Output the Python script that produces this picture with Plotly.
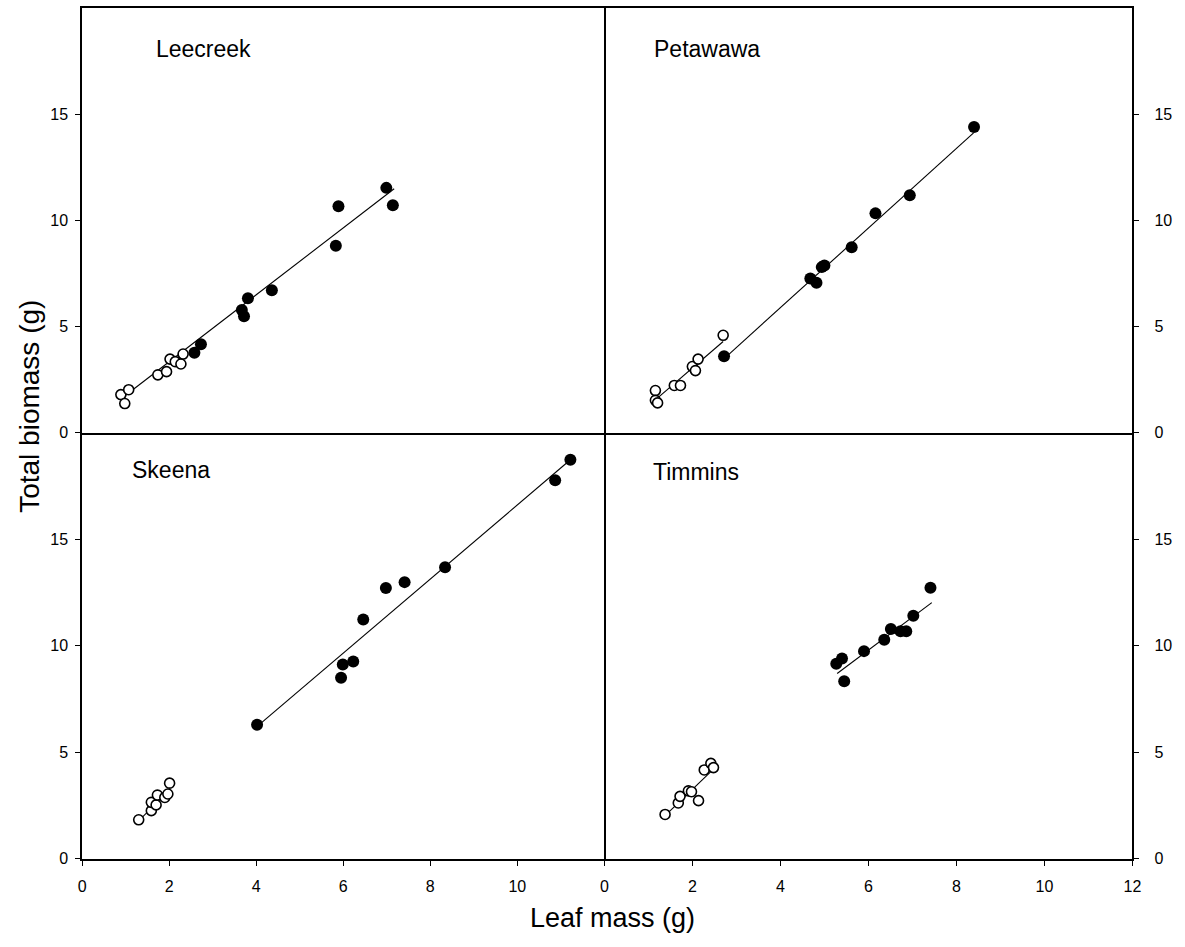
import plotly.graph_objects as go

# ---- data: leaf mass (g) vs total biomass (g), open = small seedlings, filled = large
SITES = ["Leecreek", "Petawawa", "Skeena", "Timmins"]

leecreek_open_x = [0.89, 0.98, 1.07, 1.74, 1.94, 2.02, 2.14, 2.27, 2.32]
leecreek_open_y = [1.80, 1.38, 2.03, 2.73, 2.88, 3.47, 3.35, 3.24, 3.71]
leecreek_fill_x = [2.58, 2.73, 3.67, 3.72, 3.81, 4.36, 5.83, 5.89, 6.99, 7.14]
leecreek_fill_y = [3.77, 4.17, 5.78, 5.49, 6.33, 6.71, 8.81, 10.67, 11.53, 10.71]

petawawa_open_x = [1.16, 1.16, 1.21, 1.59, 1.73, 2.00, 2.07, 2.13, 2.70]
petawawa_open_y = [1.99, 1.53, 1.41, 2.23, 2.23, 3.12, 2.93, 3.47, 4.59]
petawawa_fill_x = [2.72, 4.68, 4.82, 4.94, 5.00, 5.62, 6.16, 6.94, 8.40]
petawawa_fill_y = [3.61, 7.26, 7.07, 7.80, 7.88, 8.73, 10.33, 11.18, 14.40]

skeena_open_x = [1.30, 1.59, 1.59, 1.70, 1.73, 1.90, 1.97, 2.01]
skeena_open_y = [1.83, 2.26, 2.65, 2.53, 2.99, 2.88, 3.04, 3.55]
skeena_fill_x = [4.02, 5.95, 5.99, 6.23, 6.46, 6.98, 7.41, 8.34, 10.87, 11.22]
skeena_fill_y = [6.29, 8.50, 9.12, 9.26, 11.23, 12.71, 12.99, 13.69, 17.77, 18.74]

timmins_open_x = [1.38, 1.68, 1.72, 1.91, 1.98, 2.14, 2.27, 2.42, 2.48]
timmins_open_y = [2.08, 2.62, 2.93, 3.19, 3.15, 2.73, 4.17, 4.48, 4.28]
timmins_fill_x = [5.27, 5.40, 5.45, 5.90, 6.36, 6.51, 6.73, 6.86, 7.02, 7.41]
timmins_fill_y = [9.16, 9.40, 8.34, 9.75, 10.28, 10.79, 10.68, 10.68, 11.41, 12.73]

# regression segments (x ends, y ends)
leecreek_fit_x = [[0.97, 7.17]]
leecreek_fit_y = [[1.72, 11.49]]
petawawa_fit_x = [[1.16, 2.70], [2.81, 8.39]]
petawawa_fit_y = [[1.55, 4.30], [3.66, 14.12]]
skeena_fit_x = [[1.30, 2.01], [4.11, 11.20]]
skeena_fit_y = [[1.78, 3.25], [6.37, 18.70]]
timmins_fit_x = [[1.38, 2.45], [5.29, 7.44]]
timmins_fit_y = [[2.03, 4.15], [8.70, 12.03]]

y_ticks = [0, 5, 10, 15]
x_ticks_left = [0, 2, 4, 6, 8, 10]
x_ticks_right = [0, 2, 4, 6, 8, 10, 12]

panels = [
    (leecreek_open_x, leecreek_open_y, leecreek_fill_x, leecreek_fill_y, leecreek_fit_x, leecreek_fit_y),
    (petawawa_open_x, petawawa_open_y, petawawa_fill_x, petawawa_fill_y, petawawa_fit_x, petawawa_fit_y),
    (skeena_open_x, skeena_open_y, skeena_fill_x, skeena_fill_y, skeena_fit_x, skeena_fit_y),
    (timmins_open_x, timmins_open_y, timmins_fill_x, timmins_fill_y, timmins_fit_x, timmins_fit_y),
]

# ---- page geometry (pixels)
W, H = 1185, 947
FONT = "Arial, Liberation Sans, Helvetica, sans-serif"


def xdom(a, b):
    return [a / W, b / W]


def ydom(top, bottom):
    return [1 - bottom / H, 1 - top / H]


LEFT = xdom(79, 607)
RIGHT = xdom(607, 1141)
TOP = ydom(8, 437)
BOTTOM = ydom(437, 867)

fig = go.Figure()

for i, (ox, oy, fx, fy, lx, ly) in enumerate(panels):
    suffix = "" if i == 0 else str(i + 1)
    xa, ya = "x" + suffix, "y" + suffix
    for sx, sy in zip(lx, ly):
        fig.add_trace(go.Scatter(x=sx, y=sy, mode="lines", xaxis=xa, yaxis=ya,
                                 line=dict(color="black", width=1.1),
                                 showlegend=False, hoverinfo="skip"))
    fig.add_trace(go.Scatter(x=fx, y=fy, mode="markers", xaxis=xa, yaxis=ya,
                             marker=dict(size=12, color="black", line=dict(width=0)),
                             showlegend=False))
    fig.add_trace(go.Scatter(x=ox, y=oy, mode="markers", xaxis=xa, yaxis=ya,
                             marker=dict(size=10, color="white",
                                         line=dict(color="black", width=1.6)),
                             showlegend=False))

tick_font = dict(family=FONT, size=16, color="black")
LINE = dict(showline=True, linecolor="black", linewidth=1.6)
common_x = dict(range=[0, 12], showgrid=False, zeroline=False, fixedrange=True, **LINE)
common_y = dict(range=[0, 20], showgrid=False, zeroline=False, tickvals=y_ticks,
                ticks="outside", ticklen=5, tickwidth=1.2, tickcolor="black",
                tickfont=tick_font, fixedrange=True, **LINE)
x_bottom = dict(ticks="outside", ticklen=5, tickwidth=1.2, tickcolor="black",
                tickfont=tick_font, ticklabelstandoff=7)

# each frame edge is drawn by exactly one axis so shared edges keep a single weight
fig.update_layout(
    width=W, height=H, autosize=False,
    margin=dict(l=0, r=0, t=0, b=0),
    paper_bgcolor="white", plot_bgcolor="white",
    font=dict(family=FONT, color="black"),
    xaxis=dict(domain=LEFT, anchor="y", showticklabels=False, ticks="", mirror=True, **common_x),
    yaxis=dict(domain=TOP, anchor="x", side="left", mirror=True, ticklabelstandoff=4, **common_y),
    xaxis2=dict(domain=RIGHT, anchor="y2", showticklabels=False, ticks="", mirror=True, **common_x),
    yaxis2=dict(domain=TOP, anchor="x2", side="right", mirror=False, ticklabelstandoff=12, **common_y),
    xaxis3=dict(domain=LEFT, anchor="y3", tickvals=x_ticks_left, mirror=False, **x_bottom, **common_x),
    yaxis3=dict(domain=BOTTOM, anchor="x3", side="left", mirror=True, ticklabelstandoff=4, **common_y),
    xaxis4=dict(domain=RIGHT, anchor="y4", tickvals=x_ticks_right, mirror=False, **x_bottom, **common_x),
    yaxis4=dict(domain=BOTTOM, anchor="x4", side="right", mirror=False, ticklabelstandoff=12, **common_y),
)

# site names inside each panel
label_pos = [(0.138, 0.904), (0.090, 0.904), (0.092, 0.912), (0.088, 0.909)]
for i, (name, (px, py)) in enumerate(zip(SITES, label_pos)):
    suffix = "" if i == 0 else str(i + 1)
    fig.add_annotation(text=name, x=px, y=py, xref="x" + suffix + " domain",
                       yref="y" + suffix + " domain", xanchor="left", yanchor="middle",
                       showarrow=False, font=dict(family=FONT, size=23, color="black"))

# shared axis titles
fig.add_annotation(text="Leaf mass (g)", x=615 / W, y=1 - 927 / H, xref="paper", yref="paper",
                   xanchor="center", yanchor="middle", showarrow=False,
                   font=dict(family=FONT, size=27, color="black"))
fig.add_annotation(text="Total biomass (g)", x=25 / W, y=1 - 410 / H, xref="paper", yref="paper",
                   xanchor="center", yanchor="middle", textangle=-90, showarrow=False,
                   font=dict(family=FONT, size=28, color="black"))

fig.write_html("out.html")
